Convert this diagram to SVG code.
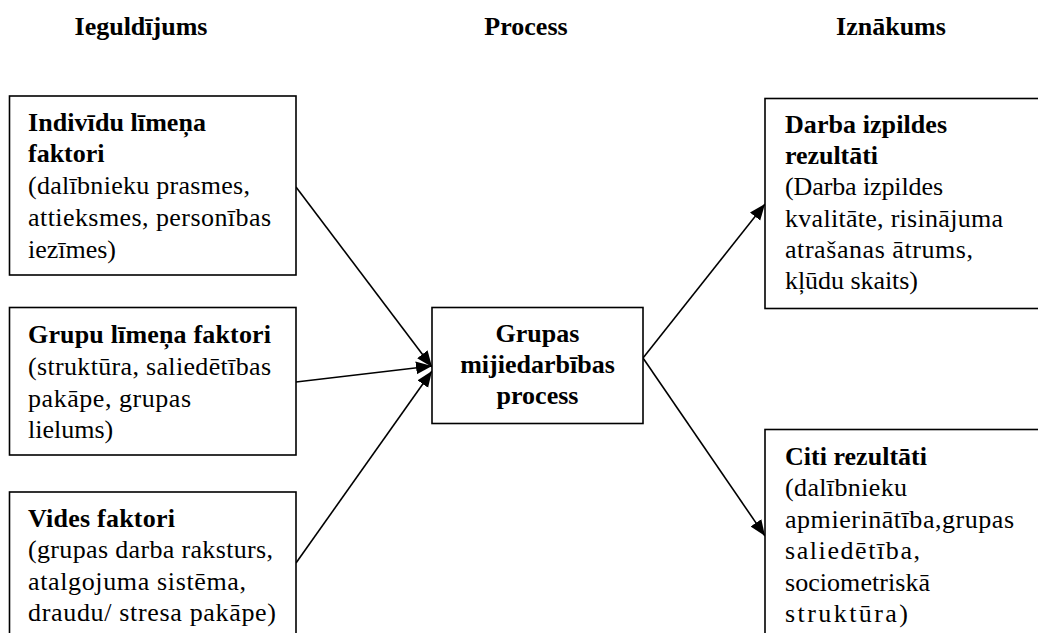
<svg xmlns="http://www.w3.org/2000/svg" width="1038" height="633" viewBox="0 0 1038 633">
<style>
.box{fill:#fff;stroke:#000;stroke-width:1.6}
text{font-family:"Liberation Serif","Times New Roman",serif;font-size:26px;fill:#000}
.b{font-weight:bold}
.hd{font-weight:bold;text-anchor:middle}
.c{text-anchor:middle}
.con{stroke:#000;stroke-width:1.6;fill:none;marker-end:url(#ah)}
</style>
<defs>
<marker id="ah" markerUnits="userSpaceOnUse" markerWidth="18" markerHeight="14" refX="16" refY="6.5" orient="auto">
<path d="M0,0 L16,6.5 L0,13 z" fill="#000"/>
</marker>
</defs>
<g id="headers">
<text class="hd" x="141" y="35">Ieguldījums</text>
<text class="hd" x="526" y="35">Process</text>
<text class="hd" x="891" y="35">Iznākums</text>
</g>
<g id="connectors">
<line class="con" x1="296" y1="187" x2="432" y2="367"/>
<line class="con" x1="296" y1="382" x2="432" y2="366"/>
<line class="con" x1="296" y1="563" x2="432" y2="371"/>
<line class="con" x1="643" y1="358" x2="765" y2="204"/>
<line class="con" x1="643" y1="358" x2="765" y2="536"/>
</g>
<g id="node-individu">
<rect class="box" x="9.5" y="96" width="286.5" height="179"/>
<text class="b" x="28" y="131" textLength="178" lengthAdjust="spacing">Indivīdu līmeņa</text>
<text class="b" x="28" y="162">faktori</text>
<text x="28" y="194" textLength="222" lengthAdjust="spacing">(dalībnieku prasmes,</text>
<text x="28" y="226" textLength="243" lengthAdjust="spacing">attieksmes, personības</text>
<text x="28" y="258" textLength="88" lengthAdjust="spacing">iezīmes)</text>
</g>
<g id="node-grupu">
<rect class="box" x="9.5" y="307.5" width="286.5" height="147.5"/>
<text class="b" x="28" y="343" textLength="243" lengthAdjust="spacing">Grupu līmeņa faktori</text>
<text x="28" y="375" textLength="243" lengthAdjust="spacing">(struktūra, saliedētības</text>
<text x="28" y="407" textLength="163" lengthAdjust="spacing">pakāpe, grupas</text>
<text x="28" y="438">lielums)</text>
</g>
<g id="node-vides">
<rect class="box" x="9.5" y="492" width="286.5" height="160"/>
<text class="b" x="28" y="527" textLength="147" lengthAdjust="spacing">Vides faktori</text>
<text x="28" y="558" textLength="245" lengthAdjust="spacing">(grupas darba raksturs,</text>
<text x="28" y="590" textLength="218" lengthAdjust="spacing">atalgojuma sistēma,</text>
<text x="28" y="621" textLength="248" lengthAdjust="spacing">draudu/ stresa pakāpe)</text>
</g>
<g id="node-process">
<rect class="box" x="432" y="307.5" width="211" height="116"/>
<text class="b c" x="537.5" y="342">Grupas</text>
<text class="b c" x="537.5" y="373">mijiedarbības</text>
<text class="b c" x="537.5" y="404">process</text>
</g>
<g id="node-darba">
<rect class="box" x="765" y="98.5" width="290" height="210"/>
<text class="b" x="785" y="133" textLength="162" lengthAdjust="spacing">Darba izpildes</text>
<text class="b" x="785" y="164" textLength="93" lengthAdjust="spacing">rezultāti</text>
<text x="785" y="195" textLength="158" lengthAdjust="spacing">(Darba izpildes</text>
<text x="785" y="227" textLength="218" lengthAdjust="spacing">kvalitāte, risinājuma</text>
<text x="785" y="258" textLength="188" lengthAdjust="spacing">atrašanas ātrums,</text>
<text x="785" y="289" textLength="133" lengthAdjust="spacing">kļūdu skaits)</text>
</g>
<g id="node-citi">
<rect class="box" x="765" y="429.5" width="290" height="230"/>
<text class="b" x="785" y="465" textLength="142" lengthAdjust="spacing">Citi rezultāti</text>
<text x="785" y="496" textLength="122" lengthAdjust="spacing">(dalībnieku</text>
<text x="785" y="528" textLength="229" lengthAdjust="spacing">apmierinātība,grupas</text>
<text x="785" y="559" textLength="135" lengthAdjust="spacing">saliedētība,</text>
<text x="785" y="591" textLength="145" lengthAdjust="spacing">sociometriskā</text>
<text x="785" y="622" textLength="123" lengthAdjust="spacing">struktūra)</text>
</g>
</svg>
